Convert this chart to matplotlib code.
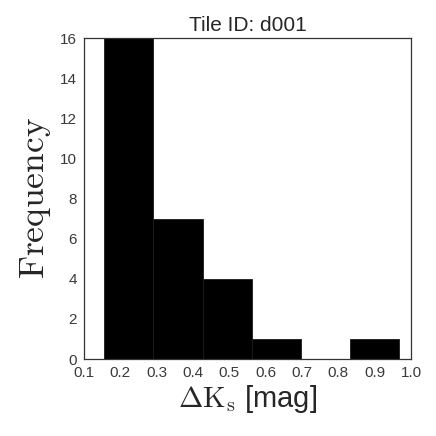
import numpy as np
import matplotlib.pyplot as plt

plt.rcParams['mathtext.fontset'] = 'cm'
plt.rcParams['font.family'] = ['Liberation Sans', 'DejaVu Sans']

# Histogram bin edges and counts
bin_edges = [0.156, 0.291, 0.427, 0.563, 0.697, 0.832, 0.968]
counts = [16, 7, 4, 1, 0, 1]
x_ticks = [0.1, 0.2, 0.3, 0.4, 0.5, 0.6, 0.7, 0.8, 0.9, 1.0]
y_ticks = [0, 2, 4, 6, 8, 10, 12, 14, 16]

fig = plt.figure(figsize=(4.36, 4.36), dpi=100)
ax = fig.add_axes([84 / 436, 1 - 359 / 436, (411 - 84) / 436, (359 - 38) / 436])

widths = np.diff(bin_edges)
ax.bar(bin_edges[:-1], counts, width=widths, align='edge',
       color='black', edgecolor='#1a1a1a', linewidth=0.6)

ax.set_xlim(0.1, 1.0)
ax.set_ylim(0, 16)
ax.set_xticks(x_ticks)
ax.set_xticklabels(['%.1f' % t for t in x_ticks])
ax.set_yticks(y_ticks)
ax.tick_params(length=0, labelsize=11, colors='#3a3a3a', pad=5)
for s in ax.spines.values():
    s.set_color('#333333')
    s.set_linewidth(0.9)

ax.set_title('Tile ID: d001', fontsize=15, color='#262626', pad=5)
ax.set_ylabel(r'$\mathrm{Frequency}$', fontsize=25.5, color='#262626', labelpad=5)
ax.set_xlabel(r'$\Delta\mathrm{K}_\mathrm{s}$ [mag]', fontsize=21, color='#262626',
              labelpad=2)

fig.savefig('out.png', dpi=100)
